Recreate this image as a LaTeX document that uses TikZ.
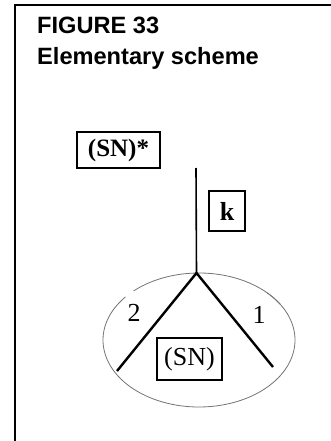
\documentclass[tikz,border=0pt]{standalone}
\usepackage{fontspec}
\usetikzlibrary{calc}
\setmainfont{Liberation Serif}
\newfontfamily\titlefont{Liberation Sans}
\begin{document}
\begin{tikzpicture}[x=1pt,y=-1pt,
  titletext/.style={font=\titlefont\bfseries\fontsize{23.6}{27}\selectfont, anchor=base west, inner sep=0pt},
  labelbox/.style={draw, line width=1.6pt, inner sep=0pt, minimum height=36pt},
  numlabel/.style={font=\fontsize{26}{28}\selectfont, inner sep=0pt},
  branch/.style={line width=2.4pt},
  ellline/.style={draw=black!55, line width=0.8pt}]
\useasboundingbox (0,0) rectangle (331,441);
% frame
\coordinate (ftl) at (15,5);
\coordinate (ftr) at (331,5);
\coordinate (fbl) at (15,441);
\draw[line width=1.8pt] (fbl) -- (ftl) -- (ftr);
% title
\node[titletext] (t1) at (37,33.3) {FIGURE 33};
\node[titletext] (t2) at (37,65) {Elementary scheme};
% ellipse (with small gaps as in the scan)
\coordinate (ec) at (199,340);
\draw[ellline] ($(ec)+(-32:96 and 67)$) arc[start angle=-32, end angle=-133, x radius=96, y radius=67];
\draw[ellline] ($(ec)+(-140:96 and 67)$) arc[start angle=-140, end angle=-405, x radius=96, y radius=67];
% boxes
\node[labelbox, minimum width=83pt, font=\bfseries\fontsize{25}{27}\selectfont] (snstar) at (118.5,150) {(SN)*};
\node[labelbox, minimum width=36pt, minimum height=40pt, font=\bfseries\fontsize{26}{28}\selectfont] (k) at (227,211) {k};
\node[labelbox, minimum width=65pt, minimum height=42pt, font=\fontsize{26}{28}\selectfont] (sn) at (189.5,359) {(SN)};
% tree
\coordinate (top) at (196,168);
\coordinate (j) at (196.5,273);
\coordinate (l) at (117,371);
\coordinate (r) at (273,367);
\draw[line width=1.6pt] (top) -- (j);
\draw[branch] (l) -- (j) -- (r);
\node[numlabel] (n2) at (134,313) {2};
\node[numlabel] (n1) at (259,315) {1};
\end{tikzpicture}
\end{document}
